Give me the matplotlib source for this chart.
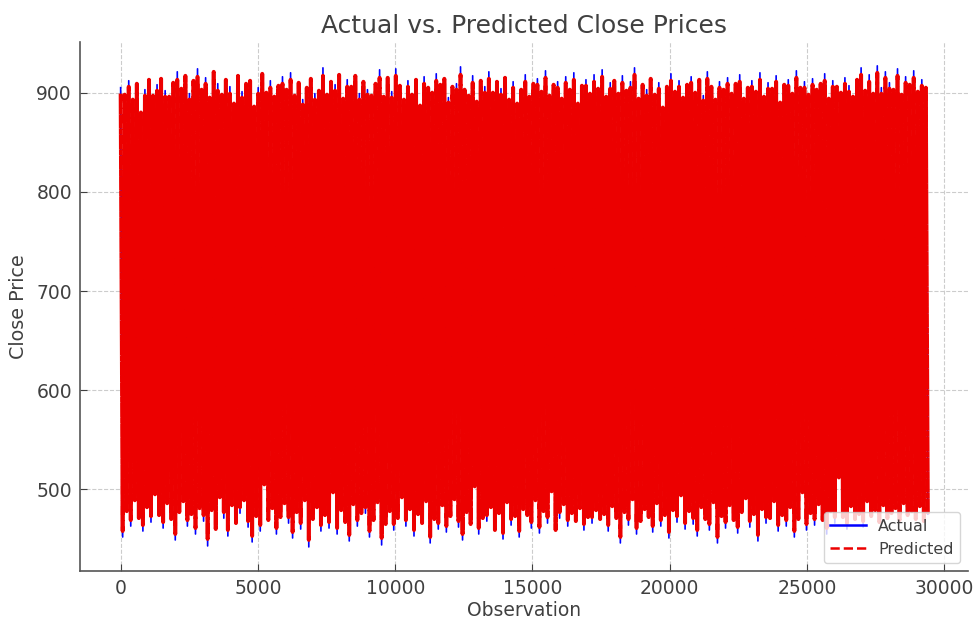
import matplotlib
matplotlib.use("Agg")
import matplotlib.pyplot as plt
from matplotlib.lines import Line2D
import numpy as np

# number of observations on the x axis
n_obs = 29400

# local highs / lows of the actual close price, read left to right
actual_hi = [905, 898, 912, 893, 909, 880, 903, 913, 897, 908,
             914, 902, 896, 910, 921, 904, 917, 899, 912, 924,
             903, 915, 895, 921, 909, 898, 913, 906, 889, 917,
             901, 909, 912, 886, 905, 919, 900, 912, 896, 907,
             916, 903, 920, 897, 910, 893, 905, 914, 899, 902,
             925, 898, 911, 908, 918, 894, 913, 906, 917, 899,
             911, 903, 897, 909, 923, 896, 915, 901, 924, 907,
             893, 912, 898, 913, 887, 916, 905, 900, 919, 908,
             914, 895, 906, 909, 926, 903, 897, 917, 891, 912,
             906, 921, 900, 911, 904, 915, 893, 911, 889, 903,
             918, 896, 909, 914, 901, 922, 897, 908, 911, 894,
             916, 903, 920, 889, 907, 913, 899, 918, 904, 923,
             896, 910, 912, 899, 917, 902, 911, 925, 894, 908,
             903, 914, 898, 910, 885, 906, 919, 901, 912, 895,
             908, 916, 900, 913, 897, 921, 906, 893, 911, 903,
             915, 899, 909, 918, 894, 905, 912, 901, 920, 896,
             910, 904, 917, 890, 908, 913, 899, 922, 905, 911,
             898, 914, 903, 909, 919, 894, 912, 906, 900, 915,
             907, 896, 913, 925, 902, 918, 899, 927, 905, 921,
             910, 903, 924, 898, 916, 908, 922, 901, 913, 905]
actual_lo = [452, 478, 463, 489, 471, 458, 482, 467, 495, 474,
             461, 486, 470, 449, 477, 488, 463, 475, 455, 481,
             468, 443, 479, 460, 492, 471, 453, 484, 466, 476,
             489, 462, 447, 473, 458, 505, 469, 481, 455, 472,
             486, 466, 451, 477, 460, 489, 442, 470, 482, 458,
             474, 461, 497, 455, 479, 467, 448, 485, 463, 476,
             476, 452, 469, 487, 444, 465, 478, 459, 471, 492,
             463, 480, 453, 475, 466, 488, 446, 470, 460, 484,
             457, 473, 490, 462, 449, 477, 465, 503, 455, 471,
             468, 482, 459, 476, 450, 487, 464, 473, 452, 480,
             474, 461, 489, 456, 478, 466, 498, 459, 471, 485,
             463, 476, 468, 481, 459, 472, 466, 479, 470, 475,
             458, 483, 471, 446, 477, 464, 490, 455, 468, 480,
             472, 457, 486, 463, 474, 451, 479, 467, 494, 460,
             478, 465, 453, 482, 470, 459, 487, 446, 473, 461,
             484, 469, 456, 477, 491, 462, 475, 448, 480, 466,
             471, 488, 458, 474, 463, 482, 452, 470, 497, 459,
             476, 464, 485, 469, 455, 478, 466, 519, 472, 460,
             483, 470, 475, 462, 488, 473, 479, 467, 484, 471,
             476, 481, 469, 486, 474, 478, 470, 483, 468, 475]

# local highs / lows of the predicted close price
pred_hi = [899, 898, 906, 893, 909, 880, 897, 913, 897, 902,
           914, 896, 896, 910, 913, 904, 917, 893, 912, 916,
           903, 909, 895, 921, 902, 898, 913, 899, 889, 917,
           895, 909, 912, 886, 899, 919, 900, 905, 896, 907,
           909, 903, 913, 897, 910, 888, 905, 914, 893, 902,
           917, 898, 911, 902, 918, 894, 906, 906, 917, 893,
           911, 898, 897, 909, 915, 896, 915, 895, 917, 907,
           893, 906, 898, 913, 887, 909, 905, 900, 912, 908,
           914, 890, 906, 903, 918, 903, 897, 910, 891, 912,
           900, 914, 900, 911, 898, 915, 893, 905, 889, 903,
           911, 896, 909, 908, 901, 915, 897, 908, 905, 894,
           910, 903, 913, 889, 907, 907, 899, 911, 904, 916,
           896, 904, 912, 899, 910, 902, 905, 918, 894, 908,
           897, 914, 898, 904, 885, 906, 912, 901, 906, 895,
           908, 910, 900, 913, 892, 914, 906, 893, 905, 903,
           909, 899, 909, 911, 894, 905, 906, 901, 913, 896,
           904, 904, 911, 890, 908, 907, 899, 915, 905, 905,
           898, 908, 903, 909, 912, 894, 906, 906, 900, 909,
           901, 896, 913, 918, 902, 911, 899, 920, 899, 915,
           904, 903, 917, 898, 910, 908, 915, 901, 907, 905]
pred_lo = [458, 478, 469, 489, 471, 464, 482, 473, 495, 474,
           467, 486, 470, 455, 477, 488, 469, 475, 461, 481,
           474, 450, 479, 460, 492, 477, 459, 484, 466, 482,
           489, 468, 453, 473, 464, 505, 469, 481, 461, 472,
           486, 472, 457, 477, 466, 489, 449, 470, 482, 464,
           474, 467, 497, 461, 479, 467, 454, 485, 469, 476,
           482, 458, 469, 487, 451, 465, 478, 465, 471, 492,
           469, 480, 459, 475, 466, 488, 452, 470, 466, 484,
           463, 473, 490, 468, 455, 477, 465, 503, 461, 471,
           474, 482, 459, 476, 456, 487, 470, 473, 458, 480,
           474, 467, 489, 462, 478, 472, 498, 459, 477, 485,
           469, 476, 468, 481, 465, 472, 472, 479, 470, 475,
           464, 483, 471, 452, 477, 470, 490, 461, 468, 480,
           472, 463, 486, 469, 474, 457, 479, 473, 494, 466,
           478, 471, 459, 482, 470, 465, 487, 452, 473, 467,
           484, 469, 462, 477, 491, 468, 475, 454, 480, 472,
           471, 488, 464, 474, 469, 482, 458, 470, 497, 465,
           476, 470, 485, 469, 461, 478, 472, 512, 472, 466,
           483, 470, 475, 468, 488, 473, 479, 467, 484, 471,
           476, 481, 469, 486, 474, 478, 470, 483, 468, 475]

actual = np.column_stack((actual_hi, actual_lo)).ravel()
predicted = np.column_stack((pred_hi, pred_lo)).ravel()
obs = np.linspace(0, n_obs, len(actual))

red = "#ec0000"
text_col = "#404040"
plt.rcParams["font.family"] = "DejaVu Sans"

fig = plt.figure(figsize=(9.79, 6.24), dpi=100)
ax = fig.add_axes([0.082, 0.085, 0.907, 0.848])

ax.plot(obs, actual, color="blue", linewidth=1.2)
# the dashes of such a dense series merge into a solid band
ax.plot(obs, predicted, color=red, linestyle="--", gapcolor=red, linewidth=2.8)

ax.set_title("Actual vs. Predicted Close Prices", fontsize=18, color=text_col, pad=6)
ax.set_xlabel("Observation", fontsize=13.5, color=text_col, labelpad=2)
ax.set_ylabel("Close Price", fontsize=13.8, color=text_col, labelpad=6)

ax.set_xticks([0, 5000, 10000, 15000, 20000, 25000, 30000])
ax.set_yticks([500, 600, 700, 800, 900])
ax.tick_params(labelsize=13.5, colors=text_col, length=5, direction="in", pad=6)
ax.grid(True, linestyle="--", color="#cccccc", linewidth=0.8)
ax.set_axisbelow(True)

for s in ["top", "right"]:
    ax.spines[s].set_visible(False)
for s in ["left", "bottom"]:
    ax.spines[s].set_color("#555555")
    ax.spines[s].set_linewidth(1.2)

handles = [Line2D([], [], color="blue", linewidth=1.8),
           Line2D([], [], color=red, linestyle="--", linewidth=1.8)]
ax.legend(handles, ["Actual", "Predicted"], loc="lower right",
          fontsize=11.5, labelcolor=text_col, handlelength=2.2)

fig.savefig("out.png", dpi=100)
